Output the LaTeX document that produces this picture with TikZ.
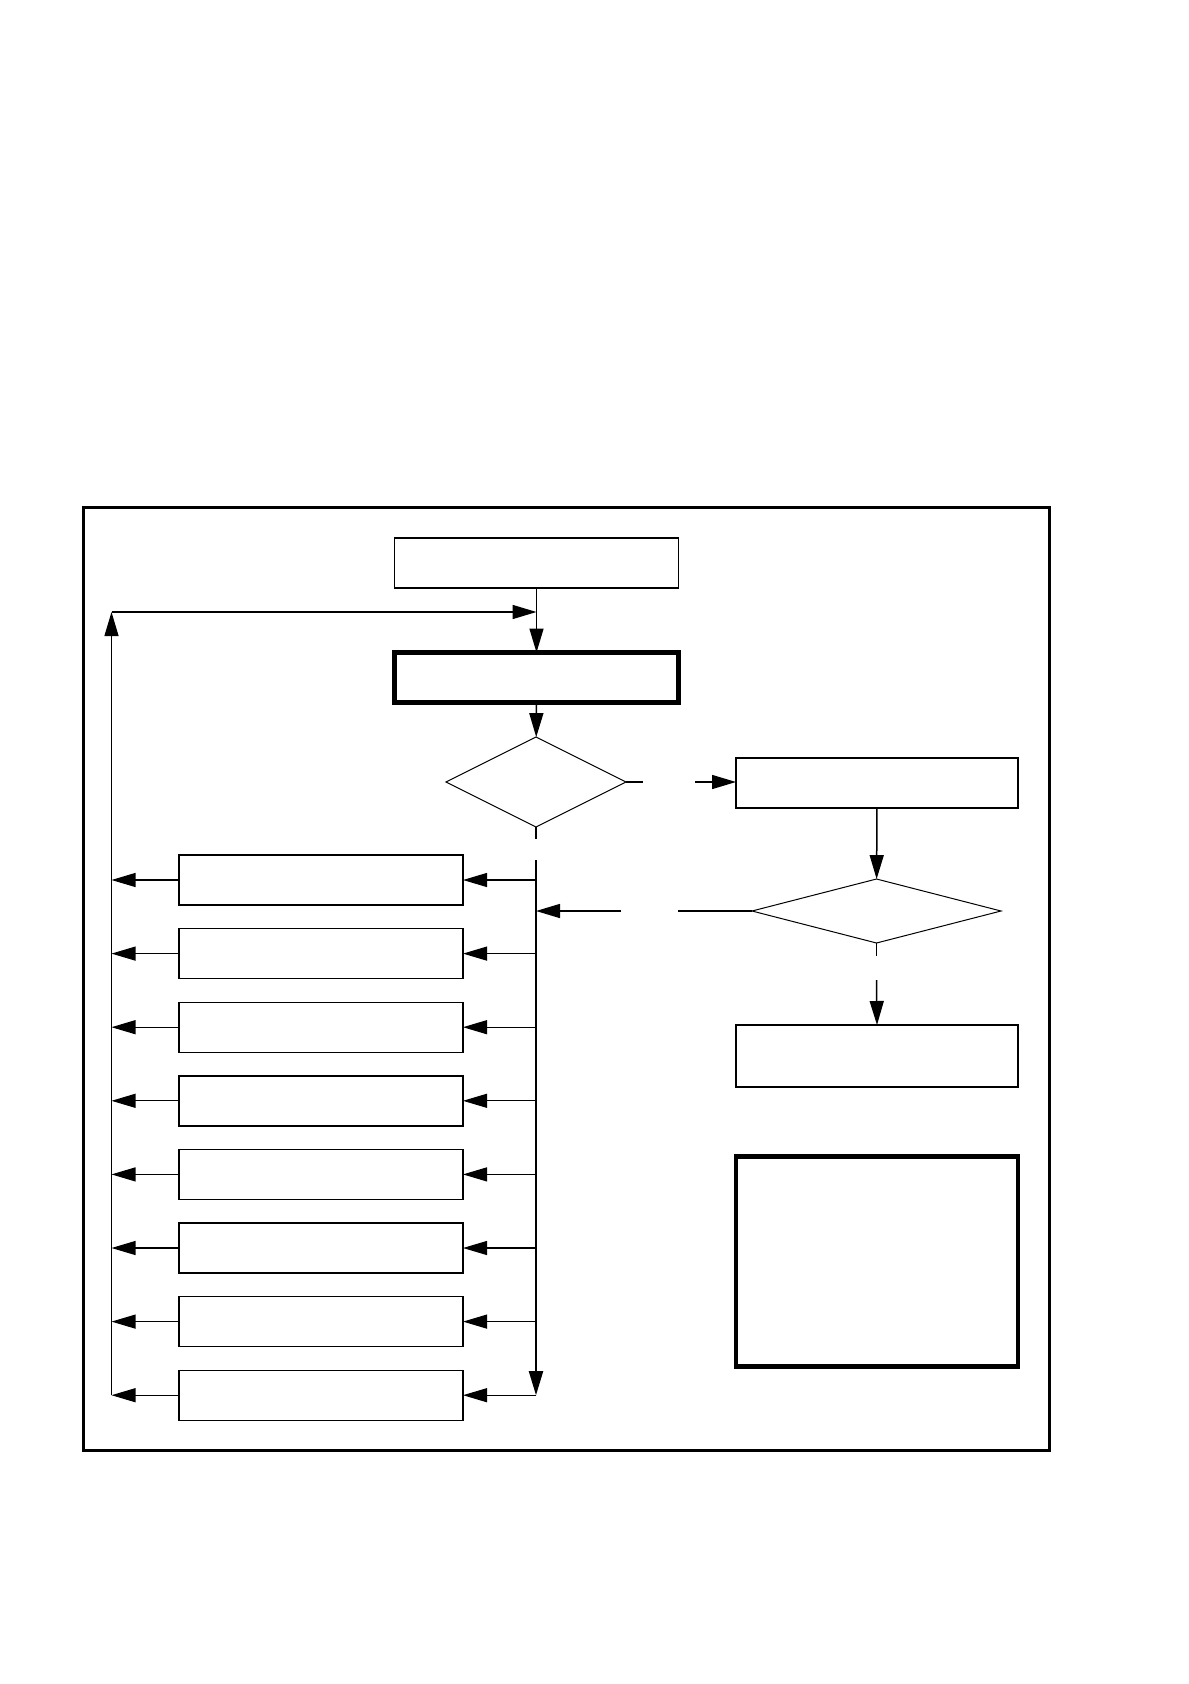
\documentclass[tikz,border=0pt]{standalone}
\usetikzlibrary{arrows.meta,positioning,shapes.geometric}

\begin{document}
\begin{tikzpicture}[
  x=0.5pt, y=-0.5pt,
  node distance=11.8pt,
  box/.style={rectangle, draw, inner sep=0pt, outer sep=0pt, line width=0.7pt, minimum width=142pt, minimum height=25pt},
  thickbox/.style={box, line width=2.2pt},
  decision/.style={diamond, draw, inner sep=0pt, outer sep=0pt, line width=0.5pt},
  arrow/.style={-{Triangle[length=12pt, width=7pt]}, line width=0.75pt},
  thinarrow/.style={arrow, line width=0.55pt},
]
\useasboundingbox (0,0) rectangle (1188,1684);
\draw[line width=1.1pt] (83.5,507.5) rectangle (1049.5,1450.5);

% main column
\node[box] (start) at (536.5,563) {};
\node[thickbox] (init) at (536.5,677.5) {};
\node[decision, minimum width=90pt, minimum height=45pt] (dec1) at (536,782) {};

% right column
\node[box, minimum width=141pt] (proc1) at (877,783) {};
\node[decision, minimum width=124.5pt, minimum height=32pt] (dec2) at (876.5,911) {};
\node[box, minimum width=141pt, minimum height=31pt] (proc2) at (877,1056) {};
\node[thickbox, minimum width=141pt, minimum height=105pt] (note) at (877,1261.5) {};

% left column
\node[box] (l1) at (321,880) {};
\node[box, below=of l1] (l2) {};
\node[box, below=of l2] (l3) {};
\node[box, below=of l3] (l4) {};
\node[box, below=of l4] (l5) {};
\node[box, below=of l5] (l6) {};
\node[box, below=of l6] (l7) {};
\node[box, below=of l7] (l8) {};

% free ends
\coordinate (railtop) at (111.5,612);
\coordinate (merge) at (536.5,612);
\coordinate (d1s) at (536,839);
\coordinate (bustop) at (536,860);
\coordinate (busbot) at (bustop |- l8.east);
\coordinate (d1r) at (643,782);
\coordinate (d1a) at (695,782);
\coordinate (d2l) at (678,911);
\coordinate (d2a) at (621,911);
\coordinate (d2s) at (876.5,956);
\coordinate (d2t) at (876.5,980);

\draw[arrow] (start) -- (init);
\draw[arrow] (init) -- (dec1);
\draw[line width=0.75pt] (dec1.east) -- (d1r);
\draw[arrow] (d1a) -- (proc1.west |- d1a);
\draw[line width=0.75pt] (dec1.south) -- (d1s);
\draw[arrow, line width=1pt] (bustop) -- (busbot);

\draw[arrow] (proc1) -- (dec2);
\draw[line width=0.75pt] (dec2.west) -- (d2l);
\draw[arrow] (d2a) -- (bustop |- d2a);
\draw[line width=0.75pt] (dec2.south) -- (d2s);
\draw[arrow] (d2t) -- (proc2.north);

\draw[thinarrow] (bustop |- l1.east) -- (l1.east);
\draw[thinarrow] (bustop |- l2.east) -- (l2.east);
\draw[thinarrow] (bustop |- l3.east) -- (l3.east);
\draw[thinarrow] (bustop |- l4.east) -- (l4.east);
\draw[thinarrow] (bustop |- l5.east) -- (l5.east);
\draw[thinarrow] (bustop |- l6.east) -- (l6.east);
\draw[thinarrow] (bustop |- l7.east) -- (l7.east);
\draw[thinarrow] (busbot) -- (l8.east);

\draw[thinarrow] (l1.west) -- (railtop |- l1.west);
\draw[thinarrow] (l2.west) -- (railtop |- l2.west);
\draw[thinarrow] (l3.west) -- (railtop |- l3.west);
\draw[thinarrow] (l4.west) -- (railtop |- l4.west);
\draw[thinarrow] (l5.west) -- (railtop |- l5.west);
\draw[thinarrow] (l6.west) -- (railtop |- l6.west);
\draw[thinarrow] (l7.west) -- (railtop |- l7.west);
\draw[thinarrow] (l8.west) -- (railtop |- l8.west);
\draw[thinarrow] (railtop |- l8.west) -- (railtop);
\draw[arrow] (railtop) -- (merge);
\end{tikzpicture}
\end{document}
